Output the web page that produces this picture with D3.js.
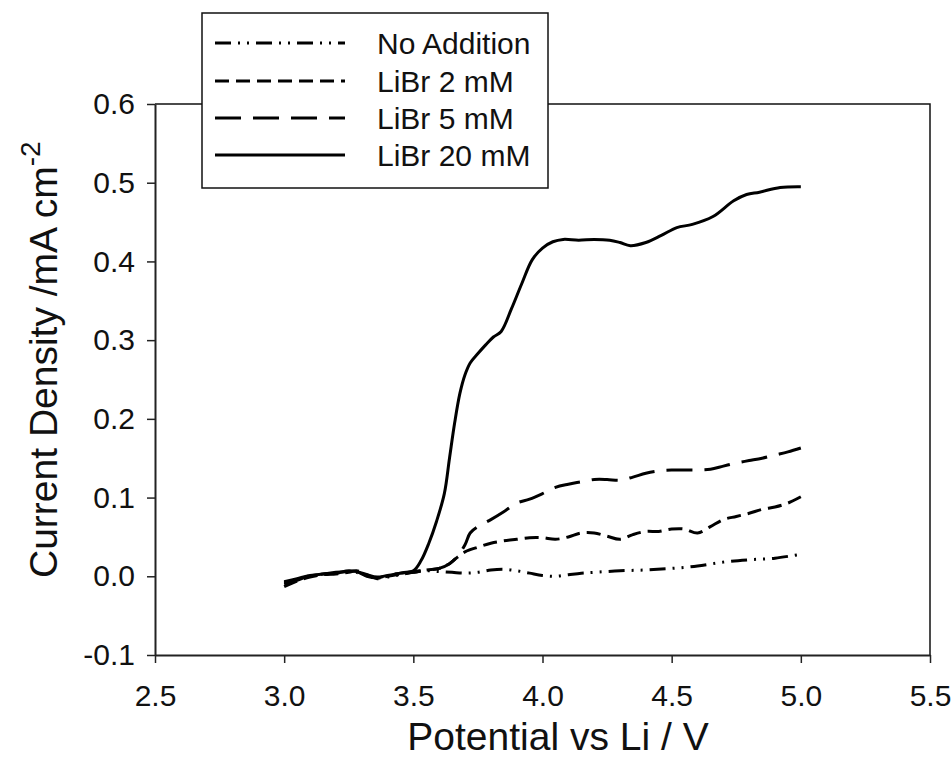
<!DOCTYPE html>
<html>
<head>
<meta charset="utf-8">
<script src="https://cdn.jsdelivr.net/npm/d3@7"></script>
<style>
  body { margin: 0; background: #fff; }
  svg { display: block; font-family: "Liberation Sans", Arial, sans-serif; }
</style>
</head>
<body>
<div id="chart"></div>
<script>
// data: [potential (V), current density (mA cm-2)]
var noAddition = [[3.00,-0.008],[3.05,-0.004],[3.10,0.000],[3.15,0.002],[3.20,0.004],[3.25,0.006],[3.28,0.005],[3.32,0.001],[3.36,-0.002],[3.40,-0.001],[3.45,0.002],[3.50,0.005],[3.55,0.007],[3.60,0.006],[3.65,0.005],[3.70,0.004],[3.75,0.005],[3.80,0.008],[3.85,0.009],[3.90,0.007],[3.95,0.004],[4.00,0.001],[4.05,0.000],[4.10,0.002],[4.15,0.004],[4.20,0.005],[4.30,0.007],[4.40,0.008],[4.50,0.010],[4.60,0.013],[4.70,0.018],[4.80,0.021],[4.90,0.023],[5.00,0.028]];
var libr2 = [[3.00,-0.013],[3.05,-0.006],[3.10,-0.001],[3.15,0.002],[3.20,0.003],[3.25,0.005],[3.28,0.007],[3.32,0.002],[3.36,-0.003],[3.40,0.000],[3.45,0.003],[3.50,0.005],[3.55,0.008],[3.60,0.010],[3.64,0.016],[3.67,0.024],[3.70,0.031],[3.75,0.037],[3.80,0.042],[3.85,0.045],[3.90,0.047],[3.95,0.049],[4.00,0.049],[4.05,0.047],[4.10,0.050],[4.15,0.055],[4.20,0.055],[4.25,0.051],[4.30,0.047],[4.35,0.053],[4.40,0.057],[4.45,0.057],[4.50,0.060],[4.55,0.060],[4.60,0.055],[4.65,0.063],[4.70,0.072],[4.75,0.076],[4.80,0.080],[4.85,0.085],[4.90,0.088],[4.95,0.093],[5.00,0.101]];
var libr5 = [[3.00,-0.010],[3.05,-0.005],[3.10,0.001],[3.15,0.003],[3.20,0.005],[3.25,0.006],[3.28,0.006],[3.32,0.000],[3.36,-0.002],[3.40,0.001],[3.45,0.004],[3.50,0.006],[3.55,0.008],[3.60,0.010],[3.64,0.016],[3.67,0.025],[3.70,0.040],[3.72,0.055],[3.75,0.063],[3.80,0.072],[3.85,0.082],[3.90,0.093],[3.95,0.098],[4.00,0.105],[4.05,0.113],[4.10,0.117],[4.15,0.120],[4.20,0.123],[4.25,0.123],[4.30,0.122],[4.35,0.126],[4.40,0.131],[4.45,0.134],[4.50,0.135],[4.55,0.135],[4.60,0.135],[4.65,0.136],[4.70,0.140],[4.75,0.144],[4.80,0.147],[4.85,0.150],[4.90,0.154],[4.95,0.158],[5.00,0.163]];
var libr20 = [[3.00,-0.007],[3.05,-0.003],[3.10,0.001],[3.15,0.003],[3.20,0.004],[3.25,0.007],[3.28,0.006],[3.32,0.002],[3.36,-0.001],[3.40,0.001],[3.45,0.004],[3.50,0.007],[3.53,0.020],[3.56,0.042],[3.59,0.070],[3.62,0.105],[3.64,0.150],[3.66,0.195],[3.68,0.232],[3.70,0.256],[3.72,0.271],[3.75,0.283],[3.78,0.294],[3.81,0.304],[3.84,0.311],[3.88,0.340],[3.92,0.372],[3.96,0.402],[4.00,0.417],[4.04,0.425],[4.08,0.428],[4.14,0.427],[4.20,0.428],[4.26,0.427],[4.30,0.424],[4.34,0.420],[4.40,0.424],[4.46,0.433],[4.52,0.443],[4.58,0.447],[4.66,0.457],[4.74,0.477],[4.79,0.485],[4.84,0.488],[4.92,0.494],[5.00,0.495]];

var seriesNames = ['No Addition', 'LiBr 2 mM', 'LiBr 5 mM', 'LiBr 20 mM'];
var xTicks = [2.5, 3.0, 3.5, 4.0, 4.5, 5.0, 5.5];
var yTicks = [-0.1, 0.0, 0.1, 0.2, 0.3, 0.4, 0.5, 0.6];

var dashes = ['16,7,2,7,2,7', '14,7', '26,12', null];
var series = [noAddition, libr2, libr5, libr20];

var W = 952, H = 764;
var M = { left: 155, right: 22, top: 104, bottom: 109 };
var innerW = W - M.left - M.right, innerH = H - M.top - M.bottom;

var svg = d3.select('#chart').append('svg')
    .attr('width', W).attr('height', H);
var g = svg.append('g')
    .attr('transform', 'translate(' + M.left + ',' + M.top + ')');

var x = d3.scaleLinear().domain([2.5, 5.5]).range([0, innerW]);
var y = d3.scaleLinear().domain([-0.1, 0.6]).range([innerH, 0]);
var fmt = function(d) { return d.toFixed(1); };

// frame top / right
g.append('path')
    .attr('d', 'M0,0H' + innerW + 'V' + innerH)
    .attr('fill', 'none').attr('stroke', '#111').attr('stroke-width', 1.5);

// axes
var xAxis = g.append('g')
    .attr('transform', 'translate(0,' + innerH + ')')
    .call(d3.axisBottom(x).tickValues(xTicks).tickFormat(fmt)
        .tickSize(8).tickSizeOuter(0).tickPadding(22));
var yAxis = g.append('g')
    .call(d3.axisLeft(y).tickValues(yTicks).tickFormat(fmt)
        .tickSize(8).tickSizeOuter(0).tickPadding(12));
[xAxis, yAxis].forEach(function(a) {
    a.select('.domain').attr('stroke', '#222').attr('stroke-width', 2);
    a.selectAll('.tick line').attr('stroke', '#222').attr('stroke-width', 1.5);
    a.selectAll('.tick text').attr('font-size', 30).attr('fill', '#111')
        .attr('font-family', '"Liberation Sans", Arial, sans-serif');
});

// curves
var line = d3.line()
    .x(function(d) { return x(d[0]); })
    .y(function(d) { return y(d[1]); })
    .curve(d3.curveCatmullRom);
series.forEach(function(s, i) {
    g.append('path')
        .datum(s)
        .attr('d', line)
        .attr('fill', 'none')
        .attr('stroke', '#000')
        .attr('stroke-width', 3)
        .attr('stroke-dasharray', dashes[i]);
});

// axis titles
svg.append('text')
    .attr('x', 558).attr('y', 750)
    .attr('text-anchor', 'middle')
    .attr('font-size', 39).attr('fill', '#111')
    .text('Potential vs Li / V');
var yt = svg.append('text')
    .attr('transform', 'translate(57,578) rotate(-90)')
    .attr('font-size', 39).attr('fill', '#111');
yt.append('tspan').text('Current Density /mA cm');
yt.append('tspan').attr('dy', -17).attr('font-size', 28).text('-2');

// legend
var lg = svg.append('g');
lg.append('rect')
    .attr('x', 202).attr('y', 13).attr('width', 346).attr('height', 175)
    .attr('fill', '#fff').attr('stroke', '#111').attr('stroke-width', 1.5);
var rowY = [43, 81, 118, 155];
seriesNames.forEach(function(name, i) {
    lg.append('line')
        .attr('x1', 215).attr('x2', 345).attr('y1', rowY[i]).attr('y2', rowY[i])
        .attr('stroke', '#000').attr('stroke-width', 3)
        .attr('stroke-dasharray', dashes[i]);
    lg.append('text')
        .attr('x', 377).attr('y', rowY[i] + 11)
        .attr('font-size', 30).attr('fill', '#111')
        .text(name);
});
</script>
</body>
</html>
